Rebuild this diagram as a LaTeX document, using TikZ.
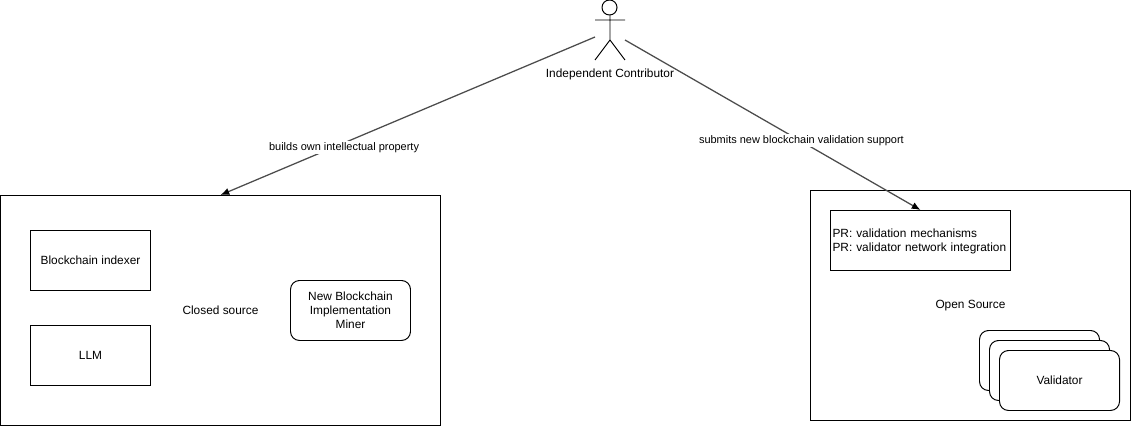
\documentclass[tikz,border=0pt]{standalone}
\usepackage{fontspec}
\setmainfont{Liberation Sans}
\usetikzlibrary{arrows.meta}
\pgfdeclarelayer{nodelayer}
\pgfdeclarelayer{edgelayer}
\pgfsetlayers{nodelayer,edgelayer,main}
\tikzstyle{box}=[fill=white, draw=black, line width=0.7pt, shape=rectangle, minimum width=3cm, minimum height=1.5cm, align=center, font=\fontsize{8.45}{10}\selectfont, inner sep=0pt]
\tikzstyle{round box}=[box, rounded corners=0.225cm]
\tikzstyle{region}=[box, minimum height=5.75cm]
\tikzstyle{stick}=[draw=black, line width=0.7pt]
\tikzstyle{edge label}=[fill=white, inner sep=1pt, font=\fontsize{7.8}{9}\selectfont]
\tikzstyle{directed edge}=[-{Latex[black, length=0.22cm, width=0.18cm]}, draw=black!70, line width=0.9pt]

\begin{document}
\begin{tikzpicture}
	\useasboundingbox (0, 0) rectangle (28.275, 10.65);
	\begin{pgfonlayer}{nodelayer}
		\node [style=region, minimum width=11cm] (closed) at (5.5125, 2.8875) {Closed source};
		\node [style=box] (indexer) at (2.2625, 4.1375) {Blockchain indexer};
		\node [style=box] (llm) at (2.2625, 1.7625) {LLM};
		\node [style=round box] (miner) at (8.7625, 2.8875) {New Blockchain\\Implementation\\Miner};
		\node [style=region, minimum width=8cm] (open) at (24.2625, 3.0125) {Open Source};
		\node [style=box, minimum width=4.5cm, text width=4.4cm, align=left] (pr) at (23.0125, 4.6375) {\rule{0pt}{8pt}PR: validation mechanisms\\PR: validator network integration};
		\node [style=round box] (validator0) at (25.9875, 1.6375) {};
		\node [style=round box] (validator1) at (26.2375, 1.3875) {};
		\node [style=round box] (validator2) at (26.4875, 1.1375) {Validator};
		% stick figure
		\node [shape=circle, style=stick, minimum size=0.375cm, inner sep=0pt] (head) at (15.2375, 10.4625) {};
		\coordinate (neck) at (15.25, 10.275);
		\coordinate (hip) at (15.25, 9.65);
		\coordinate (arm l) at (14.875, 10.15);
		\coordinate (arm r) at (15.625, 10.15);
		\coordinate (leg l) at (14.875, 9.15);
		\coordinate (leg r) at (15.625, 9.15);
		\draw [style=stick] (neck) -- (hip) (arm l) -- (arm r) (leg l) -- (hip) -- (leg r);
		\node [font=\fontsize{8.45}{10}\selectfont, inner sep=0pt] (contributor) at (15.25, 8.8) {Independent Contributor};
	\end{pgfonlayer}
	\begin{pgfonlayer}{edgelayer}
		\coordinate (actor l) at (14.875, 9.725);
		\coordinate (actor r) at (15.625, 9.65);
		\draw [style=directed edge] (actor l) to node [style=edge label, pos=0.67, yshift=-0.125cm] (builds) {builds own intellectual property} (closed.north);
		\draw [style=directed edge] (actor r) to node [style=edge label, pos=0.597, yshift=0.025cm] (submits) {submits new blockchain validation support} (pr.north);
	\end{pgfonlayer}
\end{tikzpicture}
\end{document}
